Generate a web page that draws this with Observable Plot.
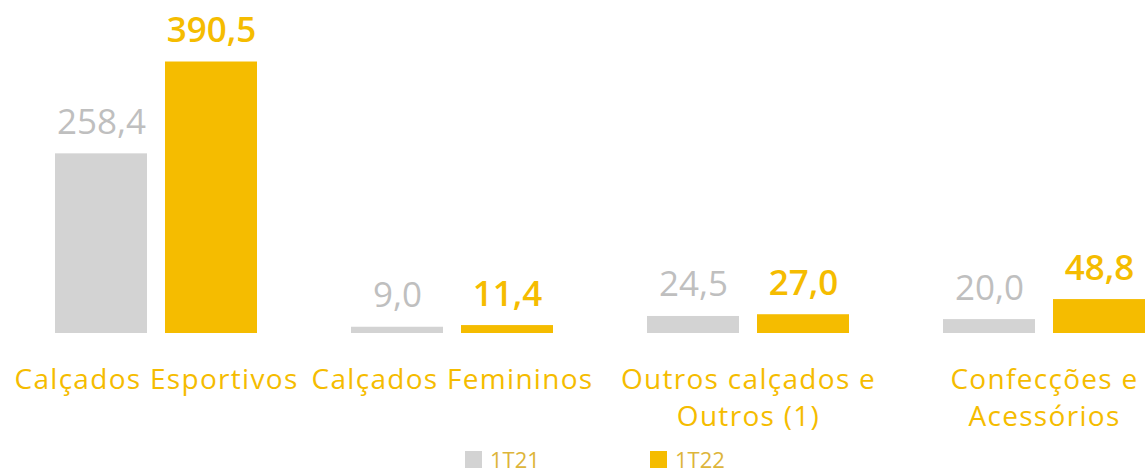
<!DOCTYPE html>
<html>
<head>
<meta charset="utf-8">
<script src="https://cdn.jsdelivr.net/npm/d3@7"></script>
<script src="https://cdn.jsdelivr.net/npm/@observablehq/plot@0.6"></script>
<style>
  html, body { margin: 0; padding: 0; background: #fff; }
  body { width: 1147px; height: 473px; overflow: hidden; font-family: "Open Sans", Lato, sans-serif; }
  #legend { position: relative; height: 28px; }
  .item { position: absolute; top: 0; display: flex; align-items: center; font-size: 22px; color: #DDB53A; line-height: 28px; }
  .sw { width: 17px; height: 17px; margin-right: 8px; }
  g[font-size="28"] text, text[font-size="28"] { letter-spacing: 1.3px; }
</style>
</head>
<body>
<div id="chart"></div>
<div id="legend"></div>
<script>
const categories = ["Calçados Esportivos", "Calçados Femininos", "Outros calçados e\nOutros (1)", "Confecções e\nAcessórios"];
const series = ["1T21", "1T22"];
const values1T21 = [258.4, 9.0, 24.5, 20.0];
const values1T22 = [390.5, 11.4, 27.0, 48.8];
const colors = ["#D3D3D3", "#F5BC00"];
const labelColors = ["#BFBFBF", "#F5BC00"];

const rows = [];
categories.forEach((c, i) => {
  rows.push({category: c, series: series[0], value: values1T21[i]});
  rows.push({category: c, series: series[1], value: values1T22[i]});
});
const fmt = v => v.toFixed(1).replace(".", ",");

const plot = Plot.plot({
  width: 1147,
  height: 445,
  marginLeft: 54,
  marginRight: 1,
  marginTop: 41,
  marginBottom: 112,
  fx: {domain: categories, paddingInner: 0.311, paddingOuter: 0, axis: null},
  x: {domain: series, paddingInner: 0.162, paddingOuter: 0, axis: null},
  y: {domain: [0, 420], axis: null},
  color: {domain: series, range: colors},
  style: {fontFamily: "'Open Sans', Lato, sans-serif", background: "#fff"},
  marks: [
    Plot.barY(rows, {fx: "category", x: "series", y: "value", fill: "series"}),
    Plot.text(rows.filter(d => d.series === series[0]), {
      fx: "category", x: "series", y: "value", text: d => fmt(d.value),
      lineAnchor: "bottom", dy: -20, fontSize: 35, fill: labelColors[0], fontWeight: 400
    }),
    Plot.text(rows.filter(d => d.series === series[1]), {
      fx: "category", x: "series", y: "value", text: d => fmt(d.value),
      lineAnchor: "bottom", dy: -20, fontSize: 35, fill: labelColors[1], fontWeight: 600
    }),
    Plot.text(categories, {
      fx: d => d, text: d => d, frameAnchor: "bottom", lineAnchor: "top",
      dy: 29, fontSize: 28, lineHeight: 1.32, fill: "#F5BC00"
    })
  ]
});
document.getElementById("chart").appendChild(plot);

const legend = document.getElementById("legend");
const lx = [465, 650];
series.forEach((s, i) => {
  const it = document.createElement("div");
  it.className = "item";
  it.style.left = lx[i] + "px";
  const sw = document.createElement("div");
  sw.className = "sw";
  sw.style.background = colors[i];
  const t = document.createElement("span");
  t.textContent = s;
  it.appendChild(sw); it.appendChild(t);
  legend.appendChild(it);
});
</script>
</body>
</html>
